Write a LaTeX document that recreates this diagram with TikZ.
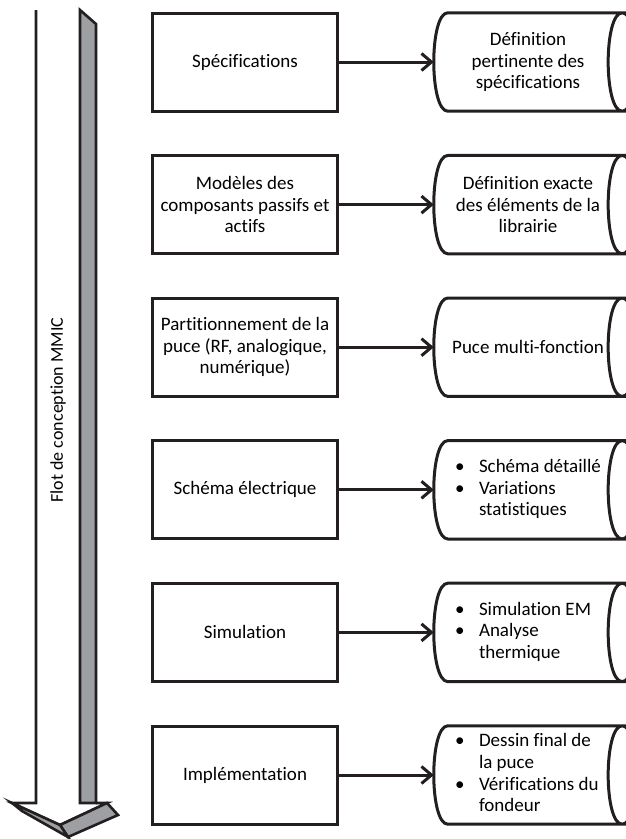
\documentclass[tikz,border=0pt]{standalone}
\usepackage{fontspec}
\setmainfont{Carlito}[Ligatures=NoCommon]
\usetikzlibrary{arrows.meta}
\definecolor{trait}{RGB}{35,31,32}
\definecolor{flancgris}{RGB}{158,159,163}
\newcommand{\listeres}[1]{\makebox[146pt][l]{\begin{tabular}{@{}p{24pt}@{}l@{}}#1\end{tabular}}}
\newcommand{\cylindre}[1]{%
  \draw[contour] ([xshift=14pt]#1.north west) .. controls +(-18.7,0) and +(-18.7,0) .. ([xshift=14pt]#1.south west)
    -- (#1.south east) .. controls +(-18.7,0) and +(-18.7,0) .. (#1.north east) -- cycle
    (#1.north east) .. controls +(18.7,0) and +(18.7,0) .. (#1.south east);}

\begin{document}
\begin{tikzpicture}[x=1pt,y=-1pt]
\tikzset{etape/.style={draw=trait, line width=3pt, minimum width=185pt, minimum height=98pt, align=center, inner sep=2pt, font=\fontsize{19}{21.7}\selectfont},
resultat/.style={minimum width=188pt, minimum height=98pt, align=center, inner sep=2pt, font=\fontsize{19}{21.7}\selectfont},
contour/.style={draw=trait, line width=3pt},
lien/.style={draw=trait, line width=3pt, -{Straight Barb[length=10pt,width=17pt]}},
fleche/.style={draw=trait, line width=2.6pt}}
\useasboundingbox (0,0) rectangle (626,839);
\clip (0,0) rectangle (626,839);
% fleche du flot
\draw[fleche] (36,10) -- (36,803) -- (12,803) -- (60,825) -- (107,803) -- (96,803);
\filldraw[fleche, fill=flancgris] (80,10) -- (96,24) -- (96,803) -- (80,803) -- cycle;
\filldraw[fleche, fill=flancgris] (107,803) -- (118,815) -- (68,837) -- (60,825) -- cycle;
\filldraw[fleche, fill=flancgris] (12,803) -- (22,811) -- (68,837) -- (60,825) -- cycle;
\node[rotate=90, font=\fontsize{18}{21.7}\selectfont] (flot) at (58,410) {Flot de conception MMIC};
% etapes
\node[etape] (E1) at (245,62) {Spécifications};
\node[etape] (E2) at (245,204.6) {Modèles des\\composants passifs et\\actifs};
\node[etape] (E3) at (245,347.2) {Partitionnement de la\\puce (RF, analogique,\\numérique)};
\node[etape] (E4) at (245,489.8) {Schéma électrique};
\node[etape] (E5) at (245,632.4) {Simulation};
\node[etape] (E6) at (245,775) {Implémentation};
% resultats
\node[resultat] (R1) at (528,62) {Définition\\pertinente des\\spécifications};
\node[resultat] (R2) at (528,204.6) {Définition exacte\\des éléments de la\\librairie};
\node[resultat] (R3) at (528,347.2) {Puce multi-fonction};
\node[resultat] (R4) at (528,489.8) {\listeres{\textbullet & Schéma détaillé\\ \textbullet & Variations\\ & statistiques}};
\node[resultat] (R5) at (528,632.4) {\listeres{\textbullet & Simulation EM\\ \textbullet & Analyse\\ & thermique}};
\node[resultat] (R6) at (528,775) {\listeres{\textbullet & Dessin final de\\ & la puce\\ \textbullet & Vérifications du\\ & fondeur}};
\cylindre{R1}
\cylindre{R2}
\cylindre{R3}
\cylindre{R4}
\cylindre{R5}
\cylindre{R6}
\draw[lien] (E1) -- (R1);
\draw[lien] (E2) -- (R2);
\draw[lien] (E3) -- (R3);
\draw[lien] (E4) -- (R4);
\draw[lien] (E5) -- (R5);
\draw[lien] (E6) -- (R6);
\end{tikzpicture}
\end{document}
